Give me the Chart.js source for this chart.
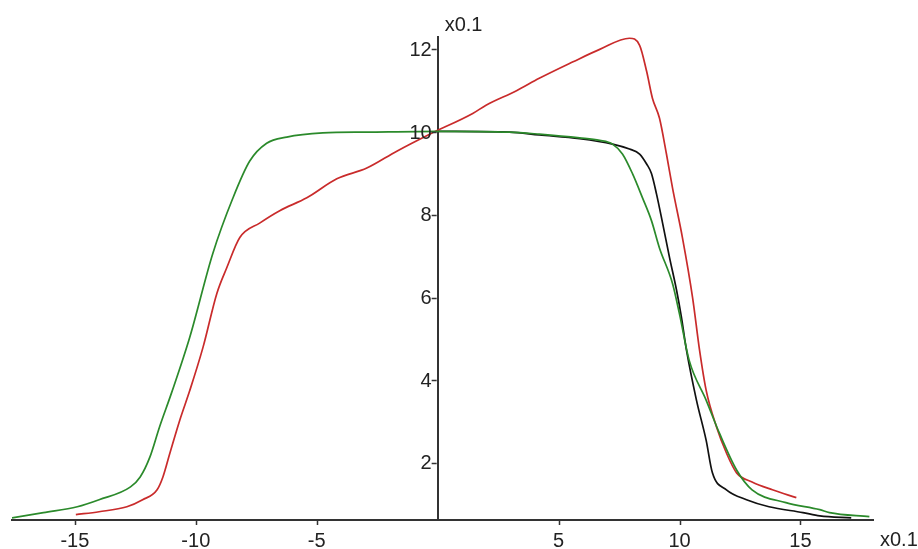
<!DOCTYPE html>
<html>
<head>
<meta charset="utf-8">
<script src="https://cdn.jsdelivr.net/npm/chart.js@4.4.1/dist/chart.umd.min.js"></script>
<style>
    body { margin: 0; background: #fff; }
    #wrap { width: 918px; height: 549px; }
</style>
</head>
<body>
<div id="wrap"><canvas id="profileChart"></canvas></div>
<script>
// values are in units of 0.1, as the axis captions say
const xTicks = [-15, -10, -5, 5, 10, 15];
const yTicks = [2, 4, 6, 8, 10, 12];

const greenX = [-17.6, -16.3, -14.9, -14.0, -12.7, -12.3, -11.9, -11.5, -11.0, -10.25, -9.3, -8.47, -7.77, -7.07, -6.24, -4.75, -2.93, 0, 2.97, 4.2, 5.87, 6.7, 7.23, 7.64, 8.06, 8.47, 8.84, 9.17, 9.71, 10.0, 10.4, 11.1, 11.65, 12.36, 13.0, 14.4, 15.8, 16.2, 17.85];
const greenY = [0.67, 0.8, 0.94, 1.11, 1.42, 1.66, 2.14, 2.87, 3.7, 5.04, 7.06, 8.4, 9.3, 9.73, 9.88, 9.98, 10.0, 10.02, 10.0, 9.95, 9.86, 9.8, 9.71, 9.47, 8.99, 8.41, 7.86, 7.2, 6.34, 5.6, 4.48, 3.52, 2.72, 1.83, 1.35, 1.04, 0.87, 0.8, 0.7];

const redX = [-14.96, -14.0, -12.85, -12.2, -11.6, -11.36, -11.07, -10.66, -10.25, -9.7, -9.13, -8.72, -8.18, -7.36, -6.53, -5.41, -4.17, -2.93, -1.69, -0.33, 1.45, 2.0, 3.26, 4.2, 5.6, 6.7, 7.93, 8.35, 8.64, 8.88, 9.17, 9.46, 9.71, 10.12, 10.54, 10.83, 11.1, 11.53, 11.94, 12.36, 13.0, 13.84, 14.83];
const redY = [0.75, 0.82, 0.94, 1.11, 1.35, 1.66, 2.24, 3.04, 3.75, 4.8, 6.1, 6.72, 7.45, 7.8, 8.1, 8.41, 8.87, 9.13, 9.54, 9.95, 10.45, 10.65, 11.0, 11.3, 11.7, 12.0, 12.27, 12.1, 11.47, 10.82, 10.34, 9.47, 8.65, 7.45, 6.0, 4.72, 3.76, 2.87, 2.24, 1.76, 1.54, 1.35, 1.16];

const blackX = [0, 2.97, 4.2, 5.87, 7.23, 7.93, 8.35, 8.64, 8.84, 9.05, 9.3, 9.59, 9.88, 10.08, 10.29, 10.7, 11.1, 11.36, 11.94, 12.77, 13.7, 15.1, 15.8, 17.1];
const blackY = [10.02, 10.0, 9.93, 9.84, 9.71, 9.59, 9.47, 9.23, 9.0, 8.5, 7.8, 6.96, 6.17, 5.52, 4.72, 3.52, 2.55, 1.76, 1.35, 1.11, 0.94, 0.8, 0.72, 0.67];

const X_MIN = -17.6, X_MAX = 18;
const Y_MIN = 0.62, Y_MAX = 12.3;

const FONT = '"Liberation Sans", Arial, sans-serif';
const TEXT_COLOR = '#222';
const AXIS_COLOR = '#333';

const ProfileChart = {
    chart: null,

    init() {
        const ctx = document.getElementById('profileChart').getContext('2d');
        this.chart = new Chart(ctx, {
            type: 'scatter',
            data: { datasets: this.buildDatasets() },
            options: this.buildOptions(),
            plugins: [this.axisDecorations()]
        });
    },

    toPoints(xs, ys) {
        return xs.map((x, i) => ({ x: x, y: ys[i] }));
    },

    buildDatasets() {
        // first dataset ends up on top
        const series = [
            { name: 'green', xs: greenX, ys: greenY, color: '#2b8a2b' },
            { name: 'red', xs: redX, ys: redY, color: '#c92b2b' },
            { name: 'black', xs: blackX, ys: blackY, color: '#111111' }
        ];
        return series.map(s => ({
            label: s.name,
            data: this.toPoints(s.xs, s.ys),
            showLine: true,
            borderColor: s.color,
            borderWidth: 1.7,
            pointRadius: 0,
            cubicInterpolationMode: 'monotone',
            fill: false
        }));
    },

    axis(ticks, extra) {
        return Object.assign({
            type: 'linear',
            afterBuildTicks: (scale) => {
                scale.ticks = ticks.map(v => ({ value: v }));
            },
            // tick marks get drawn by the plugin below, the library skips them for centred axes
            grid: { display: false, drawTicks: false },
            border: { display: true, color: AXIS_COLOR, width: 2 },
            ticks: {
                color: TEXT_COLOR,
                font: { family: FONT, size: 20 }
            }
        }, extra);
    },

    buildOptions() {
        const x = this.axis(xTicks, { min: X_MIN, max: X_MAX, position: { y: Y_MIN } });
        x.ticks.padding = 9;
        x.ticks.maxRotation = 0;
        // y labels ignore padding on a centred axis, so the plugin writes them
        const y = this.axis(yTicks, { min: Y_MIN, max: Y_MAX, position: { x: 0 } });
        y.ticks.display = false;

        return {
            responsive: true,
            maintainAspectRatio: false,
            animation: false,
            layout: { padding: { left: 12, right: 45, top: 37, bottom: 29 } },
            plugins: {
                legend: { display: false },
                tooltip: { enabled: false }
            },
            scales: { x: x, y: y }
        };
    },

    axisDecorations() {
        return {
            id: 'axisDecorations',
            afterDraw(chart) {
                const { ctx, chartArea, scales } = chart;
                const x0 = scales.x.getPixelForValue(0);
                const yBase = scales.y.getPixelForValue(Y_MIN);
                ctx.save();
                ctx.strokeStyle = AXIS_COLOR;
                ctx.lineWidth = 1.5;
                ctx.beginPath();
                yTicks.forEach(v => {
                    const py = Math.round(scales.y.getPixelForValue(v)) + 0.5;
                    ctx.moveTo(x0 - 1, py);
                    ctx.lineTo(x0 - 6, py);
                });
                xTicks.forEach(v => {
                    const px = Math.round(scales.x.getPixelForValue(v)) + 0.5;
                    ctx.moveTo(px, yBase + 1);
                    ctx.lineTo(px, yBase + 5);
                });
                ctx.stroke();

                ctx.font = '20px ' + FONT;
                ctx.fillStyle = TEXT_COLOR;
                ctx.textBaseline = 'middle';
                ctx.textAlign = 'right';
                yTicks.forEach(v => {
                    ctx.fillText(String(v), x0 - 6, scales.y.getPixelForValue(v) + 1);
                });
                ctx.textAlign = 'left';
                ctx.fillText('x0.1', x0 + 7, chartArea.top - 12);
                ctx.fillText('x0.1', chartArea.right + 7, chartArea.bottom + 20);
                ctx.restore();
            }
        };
    }
};

document.addEventListener('DOMContentLoaded', () => ProfileChart.init());
</script>
</body>
</html>
